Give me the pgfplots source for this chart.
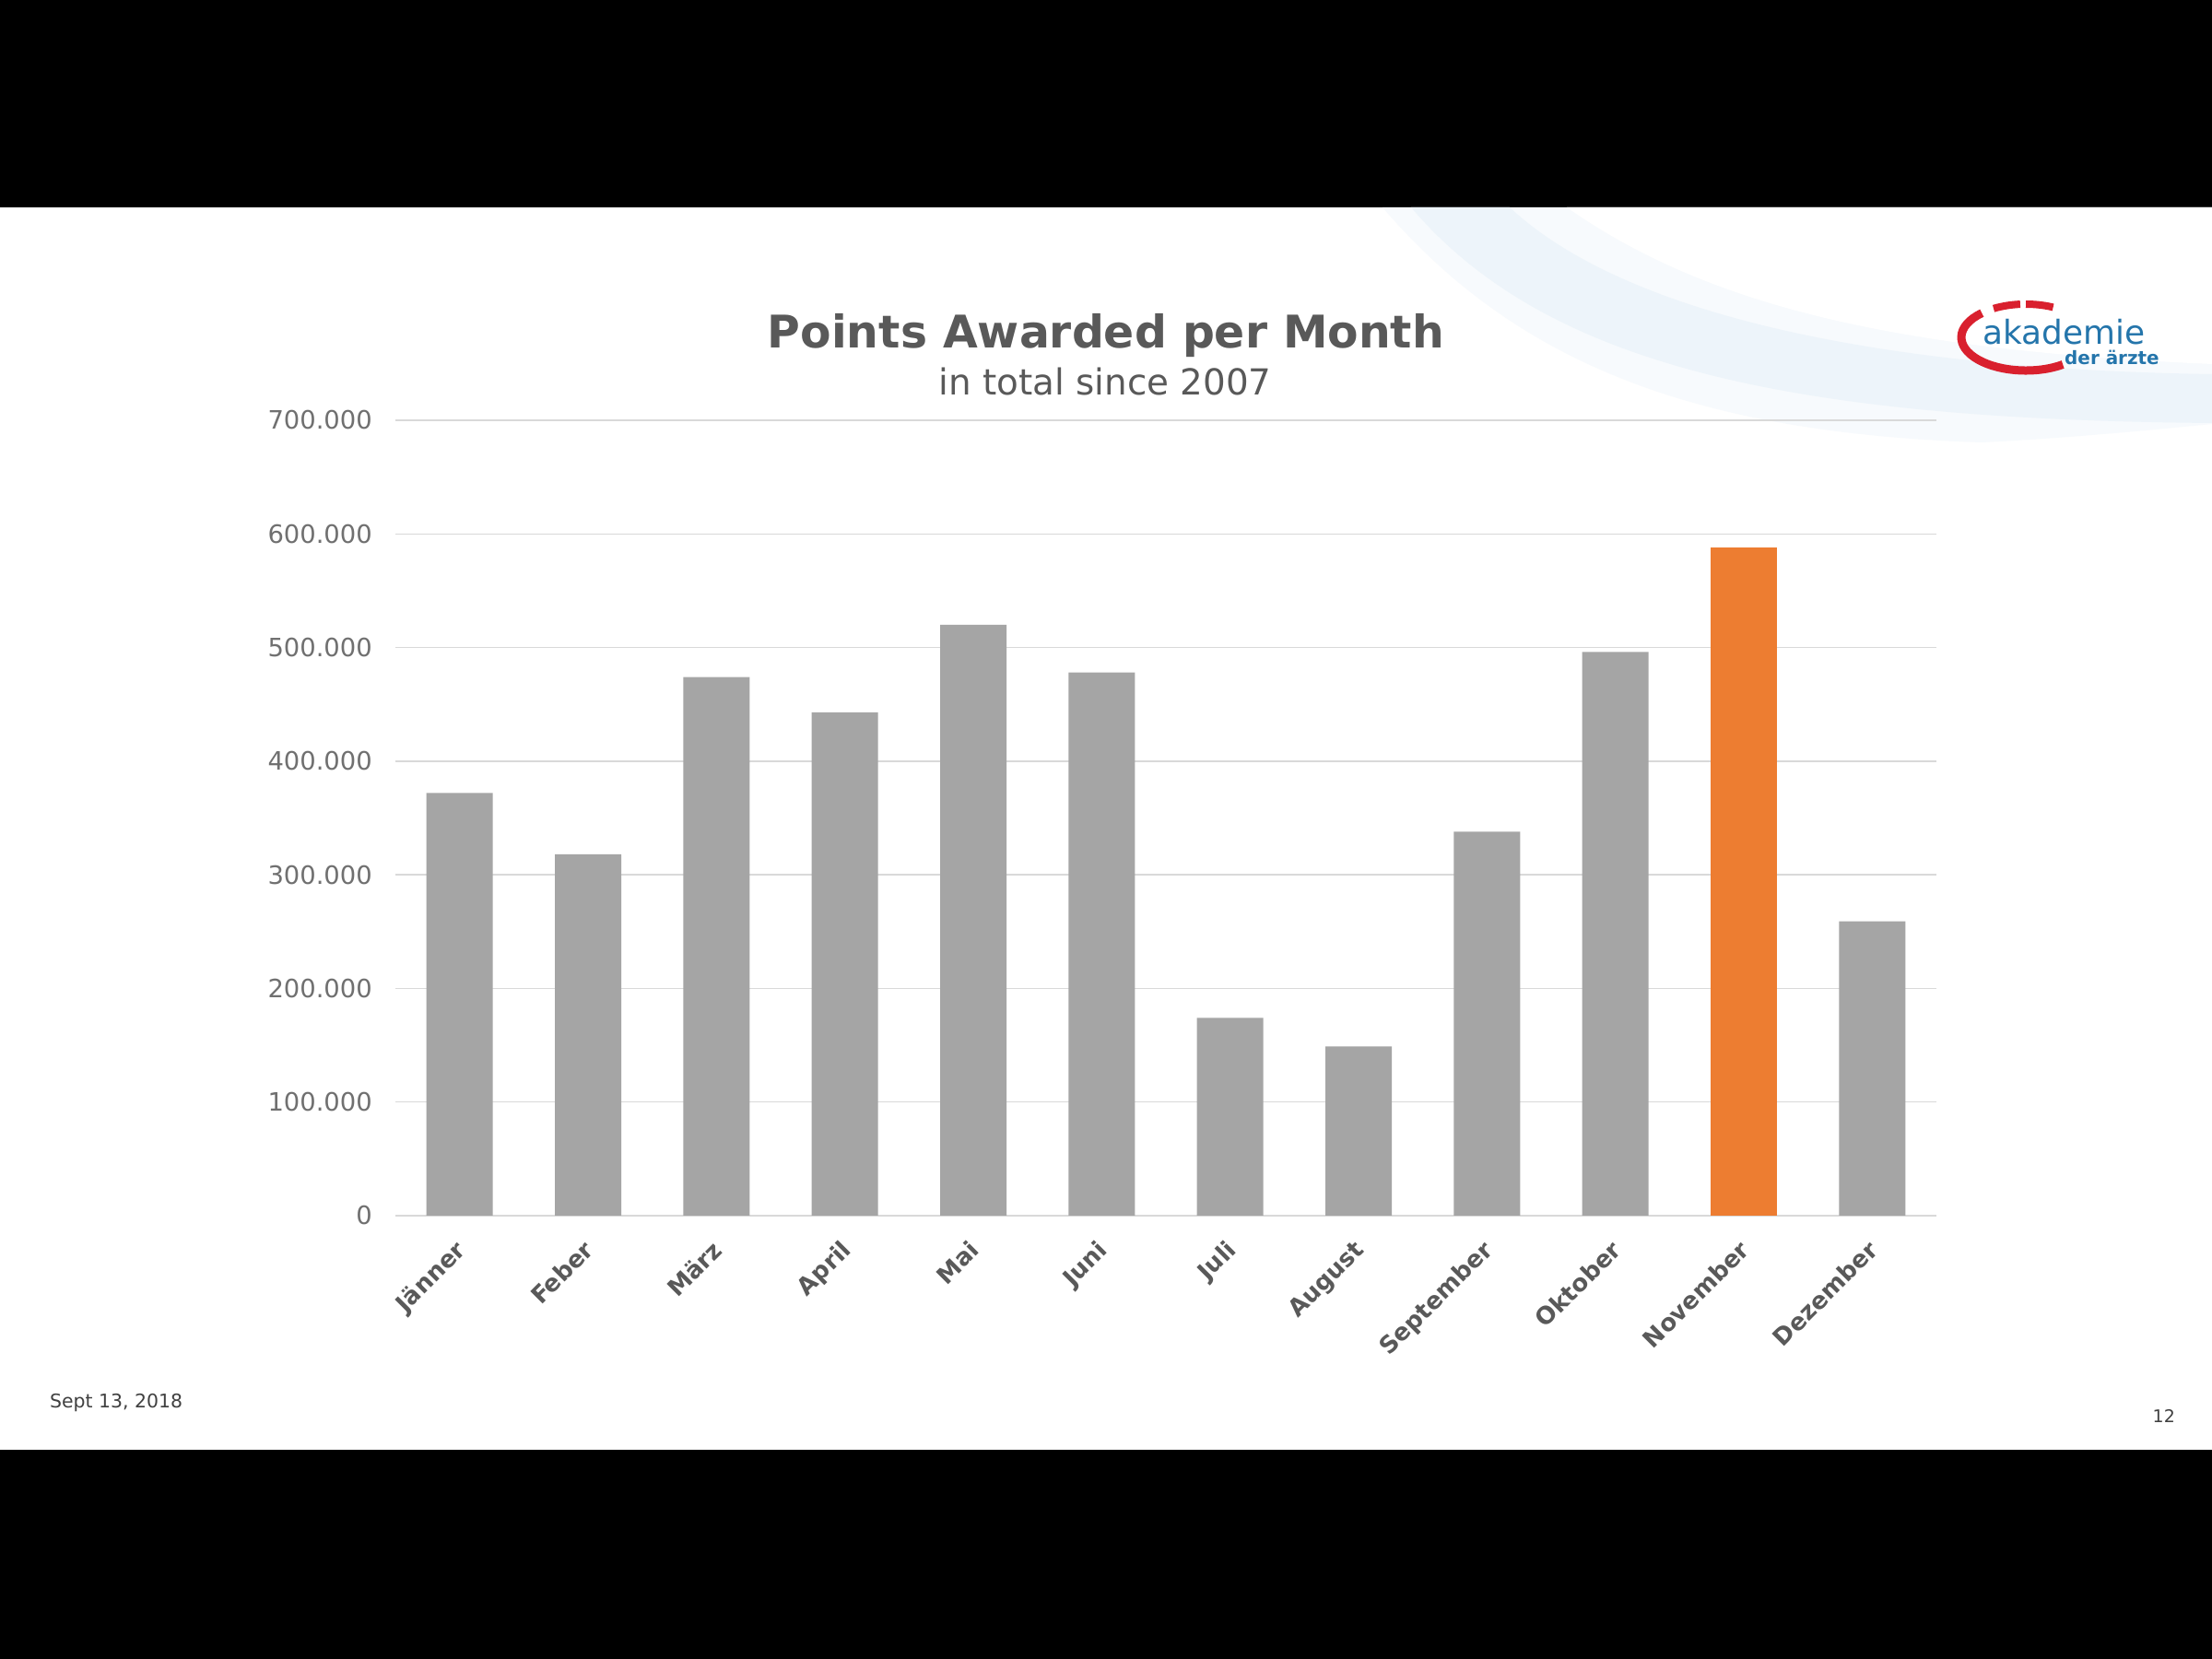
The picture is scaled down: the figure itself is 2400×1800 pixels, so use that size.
\documentclass[border=0pt]{standalone}
\usepackage{fontspec}
\setmainfont{DejaVu Sans}
\usepackage{pgfplots}
\usepackage{pgfplotstable}
\pgfplotsset{compat=1.18}
\definecolor{bargray}{HTML}{A5A5A5}
\definecolor{barorange}{HTML}{ED7D31}
\definecolor{gridgray}{HTML}{D9D9D9}
\definecolor{titlegray}{HTML}{595959}
\definecolor{tickgray}{HTML}{707070}
\definecolor{logoblue}{HTML}{2475AB}
\definecolor{logored}{HTML}{D9202E}
\definecolor{swoosh}{HTML}{EDF4FA}
\definecolor{swooshlight}{HTML}{F7FAFD}

\pgfplotstableread{
x val
0 372
1 318
2 474
3 443
4 520
5 478
6 174
7 149
8 338
9 496
11 259
}\grayData
\pgfplotstableread{
x val
10 588
}\novData

\begin{document}
\begin{tikzpicture}
\path[use as bounding box, fill=black] (0,0) rectangle (2400bp,1800bp);
\fill[white] (0,227bp) rectangle (2400bp,1575bp);
% background swoosh
\fill[swooshlight] (1500bp,1575bp) .. controls (1650bp,1400bp) and (1850bp,1330bp) .. (2150bp,1320bp)
   .. controls (2250bp,1325bp) and (2350bp,1335bp) .. (2400bp,1340bp) -- (2400bp,1575bp) -- cycle;
\fill[white] (1700bp,1575bp) .. controls (1850bp,1470bp) and (2050bp,1420bp) .. (2400bp,1405bp) -- (2400bp,1575bp) -- cycle;
\fill[swoosh] (1531bp,1575bp) -- (1638bp,1575bp) .. controls (1750bp,1470bp) and (2000bp,1400bp) .. (2400bp,1394bp)
   -- (2400bp,1341bp) .. controls (1950bp,1345bp) and (1680bp,1400bp) .. (1531bp,1575bp) -- cycle;
% title
\node[anchor=base, text=titlegray, font=\fontsize{49}{58}\selectfont\bfseries, inner sep=0pt] at (1200bp,1422bp) {Points Awarded per Month};
\node[anchor=base, text=titlegray, font=\fontsize{39}{46}\selectfont, inner sep=0pt] at (1199bp,1371bp) {in total since 2007};
% logo
\draw[logored, line width=9bp] (2150.3bp,1460.3bp) arc[start angle=133, end angle=305, x radius=70bp, y radius=36bp];
\draw[logored, line width=8bp] (2191.9bp,1469.9bp) arc[start angle=95, end angle=120, x radius=70bp, y radius=36bp];
\draw[logored, line width=8bp] (2227.6bp,1466.6bp) arc[start angle=65, end angle=90, x radius=70bp, y radius=36bp];
\node[anchor=base west, text=logoblue, font=\fontsize{36}{42}\selectfont, inner sep=0pt] at (2151bp,1426bp) {akademie};
\node[anchor=base west, text=logoblue, font=\fontsize{20}{24}\selectfont\bfseries, inner sep=0pt] at (2240bp,1404bp) {der ärzte};
% footer
\node[anchor=base west, text=black!75, font=\fontsize{20.5}{24}\selectfont, inner sep=0pt] at (54bp,272bp) {Sept 13, 2018};
\node[anchor=base east, text=black!75, font=\fontsize{19}{22}\selectfont, inner sep=0pt] at (2360bp,256bp) {12};
\begin{axis}[
  at={(429bp,481bp)}, anchor=south west, scale only axis,
  width=1672bp, height=863bp,
  xmin=-0.5, xmax=11.5, ymin=0, ymax=700,
  ybar, bar width=72bp,
  axis line style={draw=none},
  major tick length=0pt,
  ytick={0,100,...,700},
  yticklabels={0,100.000,200.000,300.000,400.000,500.000,600.000,700.000},
  ymajorgrids, grid style={gridgray, line width=1.5bp},
  xtick={0,...,11},
  xticklabels={Jänner,Feber,März,April,Mai,Juni,Juli,August,September,Oktober,November,Dezember},
  xticklabel style={xshift=-6bp, yshift=-25bp, rotate=45, anchor=north east, font=\fontsize{26}{30}\selectfont\bfseries, text=titlegray, inner sep=0pt},
  yticklabel style={font=\fontsize{27.5}{32}\selectfont, text=tickgray, inner sep=0pt, xshift=-25bp},
  clip=false,
]
\addplot[fill=bargray, draw=none, bar shift=0pt] table[x=x,y=val]{\grayData};
\addplot[fill=barorange, draw=none, bar shift=0pt] table[x=x,y=val]{\novData};
\end{axis}
\end{tikzpicture}
\end{document}
